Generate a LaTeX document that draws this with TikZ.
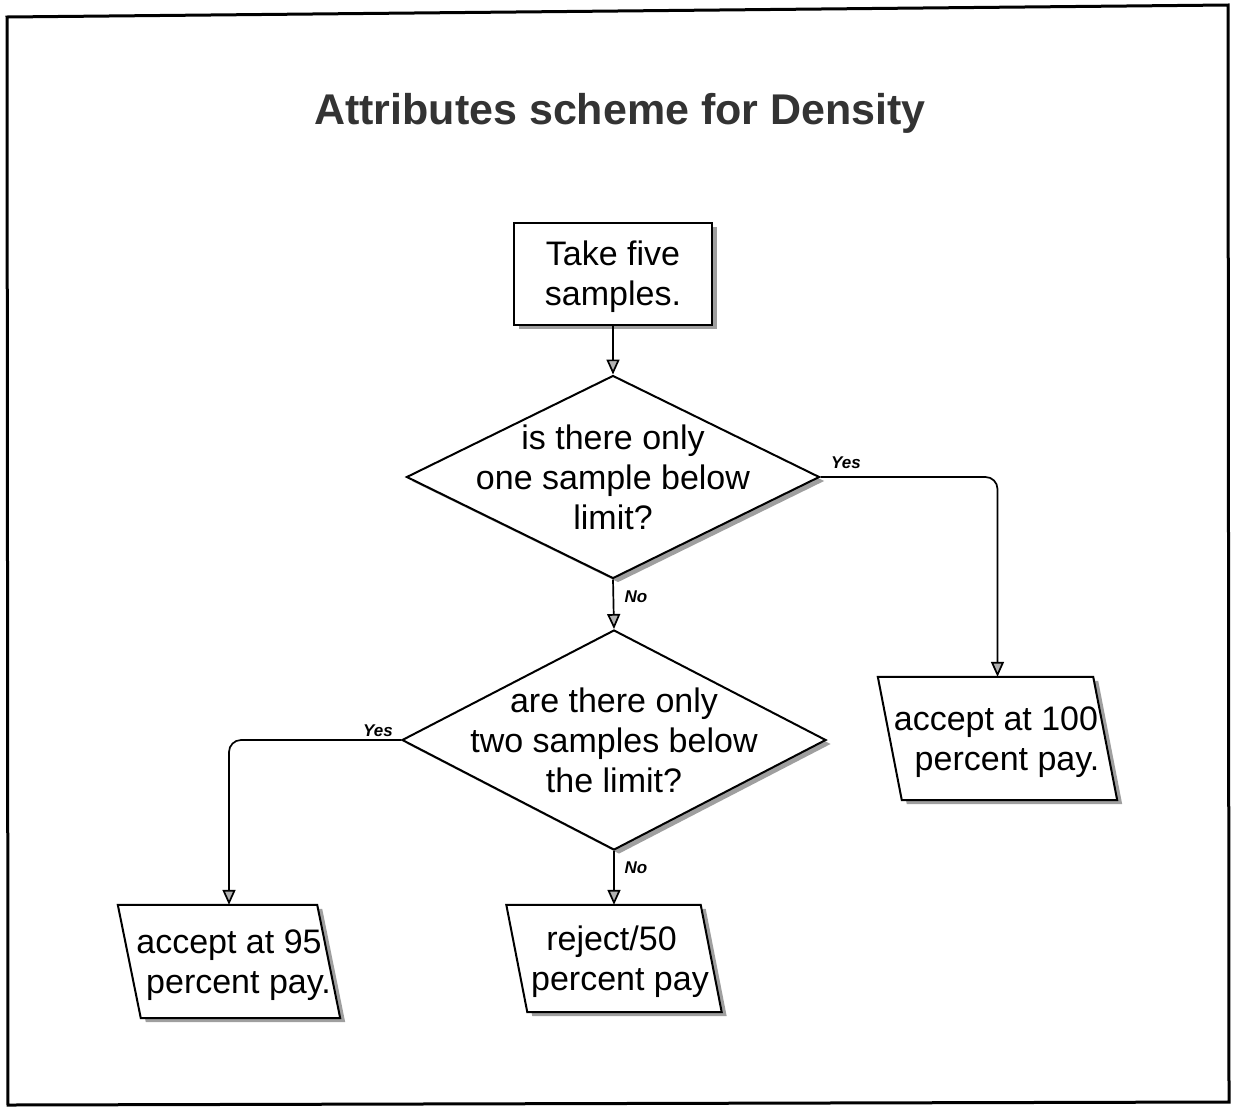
\documentclass[tikz,border=0pt]{standalone}
\usepackage{fontspec}
\setmainfont{Liberation Sans}
\usetikzlibrary{arrows.meta,shapes.geometric,shadows,calc}
\pgfdeclarelayer{bg}
\pgfsetlayers{bg,main}
\begin{document}
\begin{tikzpicture}[x=1pt,y=-1pt,
  every node/.style={font=\fontsize{34}{40}\selectfont},
  shp/.style={draw=black, line width=2pt, fill=white},
  shd/.style={drop shadow={shadow xshift=5pt, shadow yshift=-4pt, fill=gray!75, opacity=1}},
  conn/.style={draw=black, line width=1.7pt, -{Triangle[width=13pt 0 0,length=15pt 0 0,fill=gray!60]}},
  lbl/.style={font=\fontsize{17}{20}\selectfont\bfseries\itshape, inner sep=0pt},
  boxtext/.style={draw=none, inner sep=0pt, align=center}
]
\useasboundingbox (0,0) rectangle (1233,1109);
\draw[line width=3pt] (7,17) -- (1228,5) -- (1229,1102) -- (8,1105) -- cycle;

\node[font=\fontsize{43}{50}\selectfont\bfseries, text=black!80] (title) at (620,113) {Attributes scheme for Density};

\node[shp, shd, rectangle, minimum width=198pt, minimum height=102pt, inner sep=0pt, align=center] (start) at (613,274) {\rule{0pt}{31pt}Take five\\samples.};

\node[shp, shd, diamond, minimum width=413pt, minimum height=203pt, inner sep=0pt,
  label={[align=center]center:is there only\\one sample below\\limit?}] (d1) at (613,477) {};

\node[shp, shd, diamond, minimum width=424pt, minimum height=220pt, inner sep=0pt,
  label={[align=center]center:are there only\\two samples below\\the limit?}] (d2) at (614,740) {};

\node[boxtext, minimum width=239pt, minimum height=123pt] (p100) at (997.5,738.5) {\rule{0pt}{32pt}accept at 100\hspace*{3pt}\\\hspace*{19pt}percent pay.};
\node[boxtext, minimum width=222pt, minimum height=113pt] (p95) at (229,961.5) {\rule{0pt}{31pt}accept at 95\\\hspace*{19pt}percent pay.};
\node[boxtext, minimum width=215pt, minimum height=107pt] (p50) at (614,958.5) {\rule{0pt}{31pt}reject/50\hspace*{5pt}\\\hspace*{12pt}percent pay};

\begin{pgfonlayer}{bg}
\foreach \n/\s in {p100/24, p95/23, p50/21}{
  \fill[gray!75] ($(\n.north west)+(5,4)$) -- ($(\n.north east)+(5-\s,4)$) -- ($(\n.south east)+(5,4)$) -- ($(\n.south west)+(5+\s,4)$) -- cycle;
  \draw[shp] (\n.north west) -- ($(\n.north east)+(-\s,0)$) -- (\n.south east) -- ($(\n.south west)+(\s,0)$) -- cycle;
}
\end{pgfonlayer}

\draw[conn] (start.south) -- (d1.north);
\draw[conn, rounded corners=12pt] (d1.east) -| (p100.north);
\draw[conn] (d1.south) -- (d2.north);
\draw[conn, rounded corners=12pt] (d2.west) -| (p95.north);
\draw[conn] (d2.south) -- (p50.north);

\node[lbl] (yes1) at (846,463) {Yes};
\node[lbl] (no1) at (636,597) {No};
\node[lbl] (yes2) at (378,731) {Yes};
\node[lbl] (no2) at (636,868) {No};
\end{tikzpicture}
\end{document}
